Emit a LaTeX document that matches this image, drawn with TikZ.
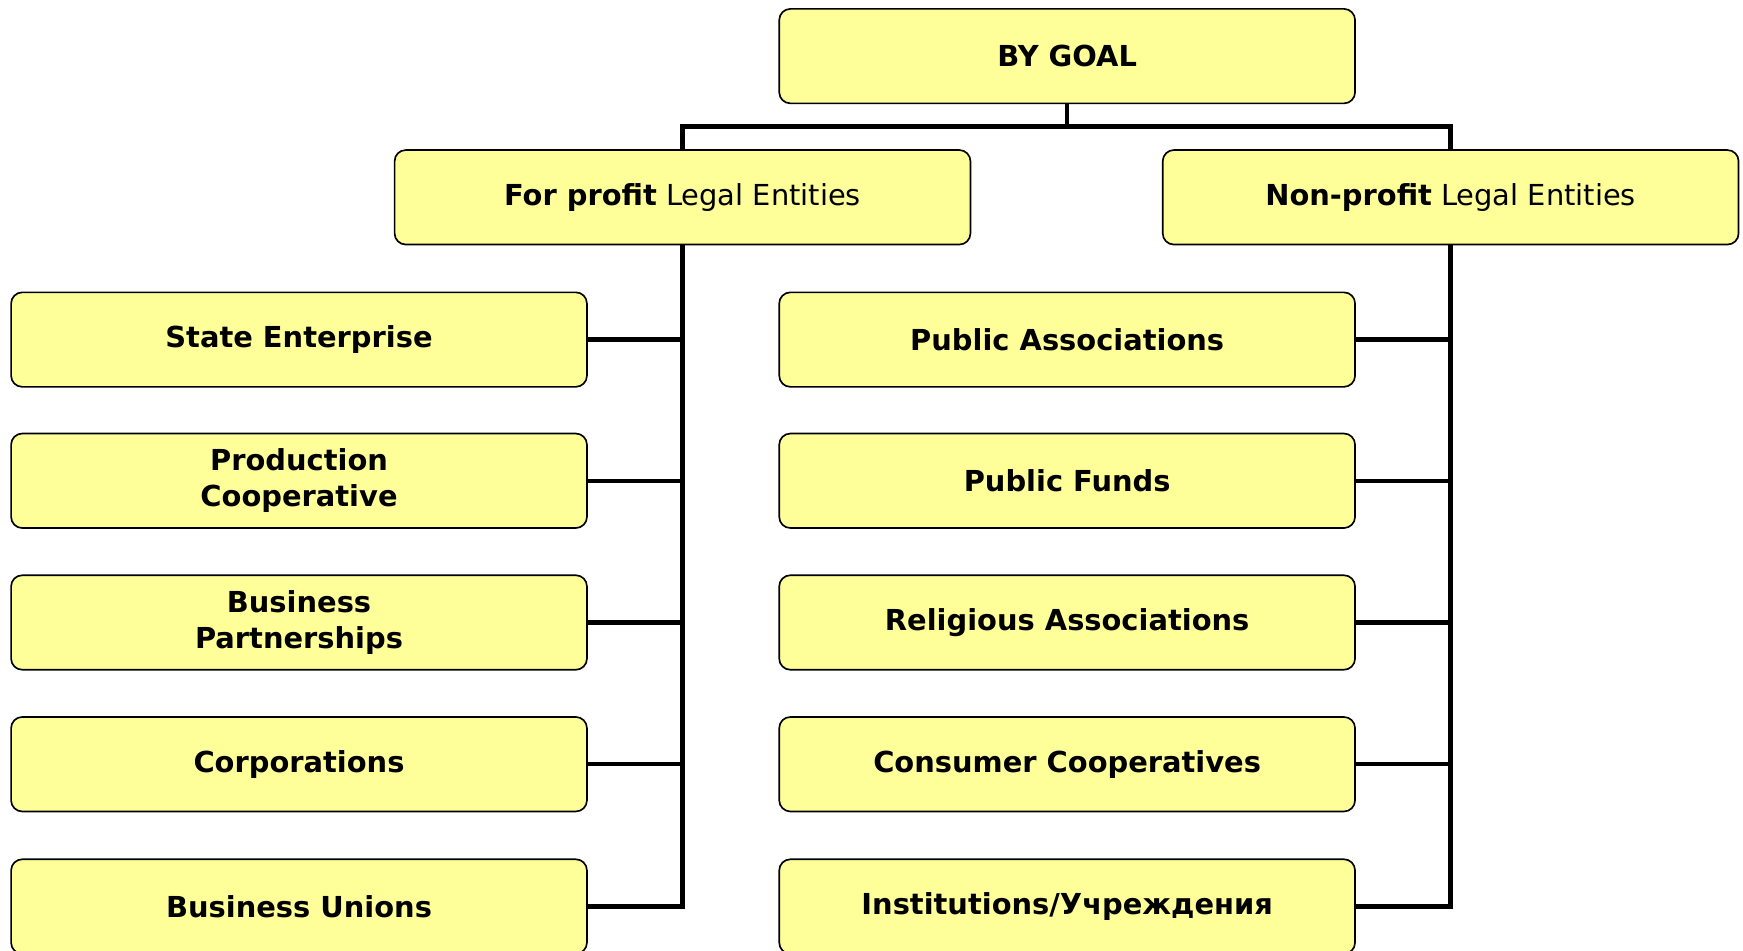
\documentclass[tikz,border=0pt]{standalone}
\usepackage{fontspec}
\setmainfont{DejaVu Sans}
\definecolor{boxfill}{HTML}{FFFF99}
\begin{document}
\begin{tikzpicture}[x=0.5pt,y=-0.5pt,
  box/.style={draw=black,fill=boxfill,rounded corners=5pt,line width=0.75pt,
    minimum width=259pt,minimum height=42.5pt,align=center,inner sep=0pt,
    font=\fontsize{13}{16}\selectfont\bfseries},
  hbox/.style={box,font=\fontsize{13}{16}\selectfont},
  conn/.style={line width=2pt}]
\useasboundingbox (0,0) rectangle (1568,855);
\clip (0,0) rectangle (1568,855);
% top
\node[box] (goal) at (960,50.5) {BY GOAL};
\node[hbox] (fp) at (614,177.5) {\textbf{For profit} Legal Entities};
\node[hbox] (np) at (1305,177.5) {\textbf{Non-profit} Legal Entities};
% left column
\node[box] (se) at (269,305.5) {State Enterprise};
\node[box] (pc) at (269,432.5) {Production\\Cooperative};
\node[box] (bp) at (269,560) {Business\\Partnerships};
\node[box] (co) at (269,687.5) {Corporations};
\node[box] (bu) at (269,815.5) {Business Unions};
% middle column
\node[box] (pa) at (960,305.5) {Public Associations};
\node[box] (pf) at (960,432.5) {Public Funds};
\node[box] (ra) at (960,560) {Religious Associations};
\node[box] (cc) at (960,687.5) {Consumer Cooperatives};
\node[box] (in) at (960,815.5) {Institutions/Учреждения};
% connectors
\draw[conn] (goal.south) -- ++(0,20) -| (fp.north);
\draw[conn] (goal.south) -- ++(0,20) -| (np.north);
\foreach \n in {se,pc,bp,co,bu}
  \draw[conn] (fp.south) |- (\n.east);
\foreach \n in {pa,pf,ra,cc,in}
  \draw[conn] (np.south) |- (\n.east);
\end{tikzpicture}
\end{document}
